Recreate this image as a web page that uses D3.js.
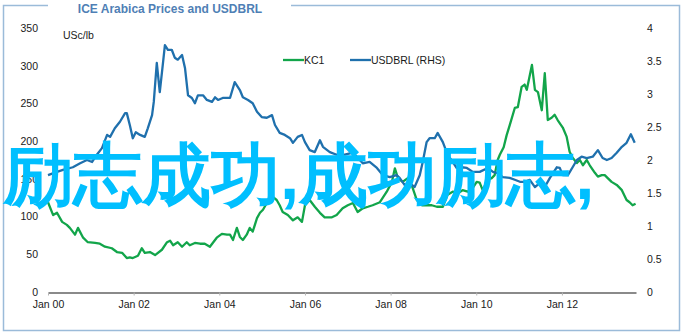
<!DOCTYPE html>
<html lang="en">
<head>
<meta charset="UTF-8">
<title>ICE Arabica Prices and USDBRL</title>
<script src="https://d3js.org/d3.v7.min.js"></script>
<style>
  body { margin: 0; background: #fff; }
  text { font-family: "Liberation Sans", Arial, sans-serif; }
</style>
</head>
<body>
<svg id="chart" width="683" height="333"></svg>
<script>
// KC1 (USc/lb), dates as decimal years
const kcYears = [2000.00,2000.12,2000.21,2000.33,2000.44,2000.51,2000.63,2000.70,2000.82,2000.93,2001.10,2001.21,2001.33,2001.49,2001.61,2001.73,2001.84,2001.91,2001.98,2002.10,2002.19,2002.26,2002.38,2002.50,2002.66,2002.78,2002.85,2002.92,2003.03,2003.13,2003.24,2003.31,2003.43,2003.55,2003.66,2003.78,2003.94,2004.06,2004.18,2004.25,2004.32,2004.41,2004.48,2004.55,2004.64,2004.71,2004.78,2004.88,2004.95,2005.02,2005.11,2005.18,2005.25,2005.34,2005.41,2005.48,2005.60,2005.72,2005.83,2005.93,2006.00,2006.11,2006.23,2006.35,2006.46,2006.63,2006.74,2006.88,2007.00,2007.12,2007.23,2007.35,2007.47,2007.58,2007.75,2007.91,2008.03,2008.10,2008.17,2008.28,2008.40,2008.49,2008.61,2008.73,2008.84,2008.96,2009.08,2009.22,2009.33,2009.45,2009.57,2009.68,2009.80,2009.92,2010.01,2010.08,2010.15,2010.27,2010.36,2010.43,2010.50,2010.55,2010.64,2010.71,2010.78,2010.90,2010.97,2011.06,2011.13,2011.18,2011.30,2011.37,2011.44,2011.53,2011.60,2011.67,2011.76,2011.83,2011.90,2012.02,2012.11,2012.18,2012.25,2012.35,2012.42,2012.49,2012.58,2012.65,2012.77,2012.84,2012.93,2013.00,2013.07,2013.16,2013.28,2013.40,2013.51,2013.58,2013.65,2013.72];
const kcValues = [119,102,105,93,89,85,76,85,72,66,65,64,60,58,53,52,45,46,45,48,58,52,53,49,56,66,68,62,66,60,66,62,65,64,64,60,72,77,76,76,69,85,73,69,76,85,80,98,105,109,118,126,126,122,115,106,102,95,99,93,115,122,113,105,99,99,102,111,115,118,106,111,113,115,119,133,146,164,151,146,151,142,122,115,115,115,113,113,129,133,131,135,133,138,146,145,135,149,151,155,175,182,192,208,221,244,245,272,275,268,301,268,265,241,290,228,231,235,228,218,206,186,178,171,175,168,175,168,158,153,155,155,151,146,142,135,122,119,115,117];

// USDBRL (right axis)
const brlYears = [2000.00,2000.21,2000.35,2000.58,2000.75,2000.91,2001.03,2001.14,2001.26,2001.38,2001.45,2001.56,2001.68,2001.80,2001.84,2001.91,2001.98,2002.05,2002.15,2002.26,2002.33,2002.43,2002.47,2002.54,2002.61,2002.68,2002.73,2002.80,2002.89,2002.96,2003.03,2003.13,2003.20,2003.27,2003.36,2003.43,2003.50,2003.62,2003.71,2003.83,2003.90,2003.97,2004.08,2004.25,2004.36,2004.48,2004.55,2004.67,2004.78,2004.88,2004.99,2005.11,2005.23,2005.30,2005.41,2005.53,2005.65,2005.72,2005.83,2005.93,2006.00,2006.11,2006.23,2006.35,2006.42,2006.58,2006.74,2006.93,2007.12,2007.28,2007.35,2007.51,2007.68,2007.82,2007.98,2008.14,2008.21,2008.33,2008.45,2008.56,2008.68,2008.75,2008.84,2008.91,2009.03,2009.10,2009.22,2009.33,2009.45,2009.54,2009.66,2009.78,2009.92,2010.08,2010.27,2010.39,2010.50,2010.62,2010.78,2010.90,2011.02,2011.13,2011.25,2011.37,2011.48,2011.60,2011.72,2011.88,2011.95,2012.02,2012.14,2012.25,2012.35,2012.46,2012.58,2012.72,2012.84,2012.95,2013.05,2013.16,2013.28,2013.40,2013.51,2013.61,2013.70];
const brlValues = [1.77,1.82,1.85,1.89,1.95,2.00,1.97,2.08,2.18,2.38,2.35,2.48,2.58,2.71,2.71,2.53,2.33,2.42,2.38,2.35,2.48,2.68,2.88,3.47,3.03,3.44,3.74,3.67,3.67,3.55,3.52,3.59,3.39,2.98,2.94,2.86,2.98,2.98,2.91,2.88,2.95,2.91,2.94,2.94,3.18,3.06,2.95,2.91,2.86,2.73,2.65,2.64,2.68,2.53,2.41,2.38,2.33,2.26,2.35,2.38,2.27,2.15,2.12,2.30,2.20,2.12,2.08,2.08,2.11,2.00,1.95,1.97,1.88,1.77,1.74,1.77,1.73,1.62,1.65,1.59,1.77,1.97,2.27,2.33,2.33,2.41,2.27,2.08,1.97,1.88,1.89,1.88,1.82,1.82,1.88,1.82,1.80,1.74,1.73,1.70,1.67,1.67,1.70,1.59,1.65,1.59,1.73,1.89,1.88,1.77,1.77,1.89,2.00,2.05,2.03,2.05,2.15,2.03,2.00,2.03,2.11,2.20,2.26,2.39,2.26];

const xTicks = [2000, 2002, 2004, 2006, 2008, 2010, 2012];
const xTickLabels = ["Jan 00", "Jan 02", "Jan 04", "Jan 06", "Jan 08", "Jan 10", "Jan 12"];
const leftTicks = [0, 50, 100, 150, 200, 250, 300, 350];
const rightTicks = [0, 0.5, 1, 1.5, 2, 2.5, 3, 3.5, 4];

const svg = d3.select("#chart");

const x = d3.scaleLinear().domain([2000, 2013.73]).range([48, 636]);
const yL = d3.scaleLinear().domain([0, 350]).range([292, 28]);
const yR = d3.scaleLinear().domain([0, 4]).range([292, 28]);

// frame with a gap for the title
const frame = "#9bbbd9";
svg.append("path")
    .attr("d", "M48,5.5 H3.5 V330.5 H679.5 V5.5 H291")
    .attr("fill", "none")
    .attr("stroke", frame)
    .attr("stroke-width", 1.5);

svg.append("text")
    .attr("x", 170).attr("y", 13)
    .attr("text-anchor", "middle")
    .attr("font-size", 12).attr("font-weight", "bold")
    .attr("fill", "#4f7fb5")
    .text("ICE Arabica Prices and USDBRL");

// axes
const left = svg.append("g")
    .attr("transform", "translate(41,0)")
    .call(d3.axisLeft(yL).tickValues(leftTicks).tickSize(0).tickPadding(3));
left.select(".domain").remove();

const right = svg.append("g")
    .attr("transform", "translate(644,0)")
    .call(d3.axisRight(yR).tickValues(rightTicks).tickSize(0).tickPadding(3).tickFormat(d3.format("~g")));
right.select(".domain").remove();

const bottom = svg.append("g")
    .attr("transform", "translate(0,292.5)")
    .call(d3.axisBottom(x).tickValues(xTicks).tickSizeInner(3).tickSizeOuter(0).tickPadding(5)
        .tickFormat((d, i) => xTickLabels[i]));
bottom.select(".domain").attr("stroke", "#8a8a8a").attr("stroke-width", 2.2);
bottom.selectAll(".tick line").attr("stroke", "#b5b5b5");

svg.selectAll(".tick text")
    .attr("font-family", "'Liberation Sans', Arial, sans-serif")
    .attr("font-size", 10.5)
    .attr("fill", "#1a1a1a");

svg.append("text")
    .attr("x", 63).attr("y", 39)
    .attr("font-size", 10.5).attr("fill", "#1a1a1a")
    .text("USc/lb");

// series
const kc = kcYears.map((t, i) => [t, kcValues[i]]);
const brl = brlYears.map((t, i) => [t, brlValues[i]]);

svg.append("path")
    .datum(kc)
    .attr("fill", "none")
    .attr("stroke", "#12a54a")
    .attr("stroke-width", 2.3)
    .attr("stroke-linejoin", "round")
    .attr("d", d3.line().x(d => x(d[0])).y(d => yL(d[1])));

svg.append("path")
    .datum(brl)
    .attr("fill", "none")
    .attr("stroke", "#1f70ad")
    .attr("stroke-width", 2.3)
    .attr("stroke-linejoin", "round")
    .attr("d", d3.line().x(d => x(d[0])).y(d => yR(d[1])));

// legend
const legend = [
    { name: "KC1", color: "#12a54a", x: 283 },
    { name: "USDBRL (RHS)", color: "#1f70ad", x: 350 }
];
const lg = svg.selectAll(".legend").data(legend).enter().append("g")
    .attr("transform", d => `translate(${d.x},60)`);
lg.append("line").attr("x1", 0).attr("x2", 21)
    .attr("stroke", d => d.color).attr("stroke-width", 2.3);
lg.append("text").attr("x", 21).attr("y", 4)
    .attr("font-size", 10.5).attr("fill", "#1a1a1a")
    .text(d => d.name);

// overlay caption
svg.append("text")
    .attr("x", 4).attr("y", 199)
    .attr("font-family", "'Noto Sans CJK SC', sans-serif")
    .attr("font-weight", "bold")
    .attr("font-size", 69)
    .attr("fill", "#00bfff")
    .text("励志成功,成功励志,");
</script>
</body>
</html>
